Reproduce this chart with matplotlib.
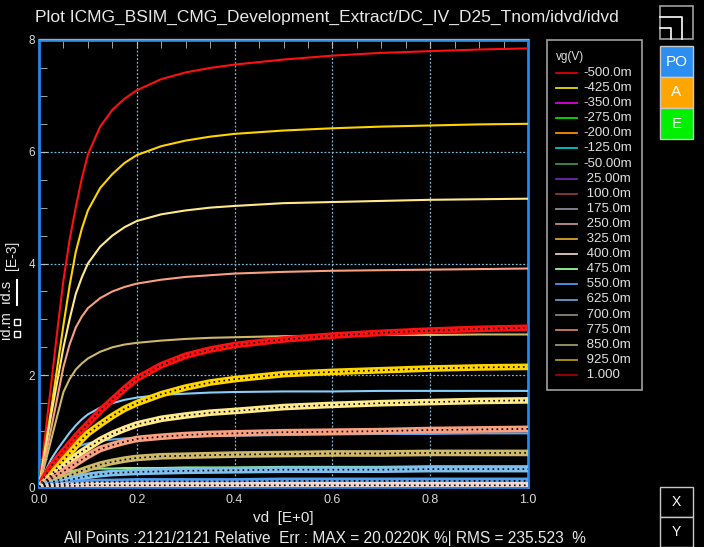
import matplotlib
matplotlib.use("Agg")
import matplotlib.pyplot as plt
from matplotlib.lines import Line2D
from matplotlib.patches import Rectangle
from matplotlib.ticker import MultipleLocator, FormatStrFormatter

plt.rcParams['font.family'] = ['Liberation Sans', 'DejaVu Sans']

# drain voltage samples (V)
vd = [0, 0.0125, 0.025, 0.0375, 0.05, 0.0625, 0.075, 0.0875, 0.1, 0.125, 0.15, 0.175,
      0.2, 0.25, 0.3, 0.35, 0.4, 0.5, 0.6, 0.7, 0.8, 0.9, 1.0]

# simulated drain current id.s [E-3 A], top curve first
ids_1 = [0, 0.92, 1.85, 2.8, 3.7, 4.42, 5.0, 5.52, 5.95, 6.45, 6.75, 6.95, 7.1, 7.3, 7.42, 7.5, 7.56, 7.65, 7.72, 7.77, 7.8, 7.83, 7.85]
ids_2 = [0, 0.7, 1.4, 2.15, 2.9, 3.6, 4.2, 4.62, 4.95, 5.35, 5.6, 5.8, 5.94, 6.1, 6.2, 6.27, 6.32, 6.38, 6.42, 6.45, 6.47, 6.49, 6.5]
ids_3 = [0, 0.65, 1.3, 1.9, 2.5, 3.0, 3.45, 3.75, 4.0, 4.3, 4.5, 4.65, 4.76, 4.88, 4.95, 5.0, 5.03, 5.08, 5.1, 5.12, 5.14, 5.15, 5.16]
ids_4 = [0, 0.52, 1.05, 1.6, 2.15, 2.55, 2.85, 3.05, 3.2, 3.38, 3.5, 3.58, 3.64, 3.71, 3.76, 3.79, 3.82, 3.85, 3.87, 3.88, 3.89, 3.9, 3.91]
ids_5 = [0, 0.42, 0.85, 1.28, 1.7, 1.93, 2.1, 2.21, 2.3, 2.42, 2.5, 2.55, 2.58, 2.62, 2.65, 2.67, 2.68, 2.7, 2.71, 2.72, 2.72, 2.73, 2.73]
ids_6 = [0, 0.27, 0.5, 0.67, 0.82, 0.97, 1.1, 1.21, 1.3, 1.42, 1.5, 1.56, 1.6, 1.65, 1.67, 1.69, 1.7, 1.71, 1.71, 1.72, 1.72, 1.72, 1.72]
ids_7 = [0, 0.18, 0.32, 0.44, 0.55, 0.63, 0.7, 0.75, 0.78, 0.83, 0.85, 0.87, 0.88, 0.9, 0.91, 0.915, 0.92, 0.93, 0.94, 0.95, 0.95, 0.96, 0.96]
ids_8 = [0, 0.1, 0.17, 0.22, 0.26, 0.28, 0.3, 0.31, 0.32, 0.33, 0.33, 0.34, 0.34, 0.34, 0.35, 0.35, 0.35, 0.36, 0.36, 0.36, 0.37, 0.37, 0.37]
ids_9 = [0, 0.02, 0.03, 0.035, 0.04, 0.045, 0.045, 0.05, 0.05, 0.05, 0.05, 0.05, 0.05, 0.05, 0.05, 0.05, 0.05, 0.05, 0.05, 0.05, 0.05, 0.05, 0.05]
ids_10 = [0, 0.005, 0.01, 0.015, 0.015, 0.02, 0.02, 0.02, 0.02, 0.02, 0.02, 0.02, 0.02, 0.02, 0.02, 0.02, 0.02, 0.02, 0.02, 0.02, 0.02, 0.02, 0.02]
ids_11 = [0, 0, 0, 0.005, 0.005, 0.005, 0.005, 0.005, 0.005, 0.005, 0.005, 0.005, 0.005, 0.005, 0.005, 0.005, 0.005, 0.005, 0.005, 0.005, 0.005, 0.005, 0.005]

# measured drain current id.m [E-3 A]
idm_1 = [0, 0.19, 0.37, 0.51, 0.64, 0.77, 0.9, 1.02, 1.13, 1.36, 1.56, 1.76, 1.94, 2.18, 2.35, 2.46, 2.54, 2.64, 2.71, 2.76, 2.8, 2.83, 2.85]
idm_2 = [0, 0.1, 0.22, 0.35, 0.48, 0.6, 0.73, 0.85, 0.96, 1.12, 1.27, 1.4, 1.5, 1.66, 1.78, 1.87, 1.93, 2.02, 2.06, 2.09, 2.12, 2.14, 2.15]
idm_3 = [0, 0.09, 0.18, 0.28, 0.37, 0.46, 0.55, 0.63, 0.7, 0.84, 0.95, 1.04, 1.12, 1.22, 1.28, 1.33, 1.36, 1.43, 1.47, 1.5, 1.52, 1.54, 1.55]
idm_4 = [0, 0.07, 0.14, 0.21, 0.28, 0.35, 0.42, 0.49, 0.56, 0.68, 0.75, 0.81, 0.86, 0.9, 0.93, 0.95, 0.96, 0.98, 0.99, 1.0, 1.02, 1.03, 1.04]
idm_5 = [0, 0.04, 0.08, 0.12, 0.16, 0.2, 0.25, 0.29, 0.33, 0.4, 0.45, 0.49, 0.52, 0.55, 0.56, 0.57, 0.58, 0.59, 0.6, 0.6, 0.61, 0.61, 0.61]
idm_6 = [0, 0.025, 0.05, 0.075, 0.1, 0.125, 0.15, 0.175, 0.2, 0.23, 0.25, 0.26, 0.27, 0.28, 0.29, 0.295, 0.3, 0.31, 0.31, 0.31, 0.32, 0.32, 0.32]
idm_7 = [0, 0.015, 0.03, 0.04, 0.05, 0.06, 0.07, 0.075, 0.08, 0.09, 0.09, 0.095, 0.1, 0.1, 0.1, 0.1, 0.1, 0.11, 0.11, 0.11, 0.11, 0.11, 0.11]
idm_8 = [0, 0.005, 0.01, 0.015, 0.02, 0.02, 0.02, 0.025, 0.03, 0.03, 0.03, 0.03, 0.03, 0.03, 0.03, 0.03, 0.03, 0.03, 0.03, 0.03, 0.03, 0.03, 0.03]

# legend entries
vg_labels = ['-500.0m', '-425.0m', '-350.0m', '-275.0m', '-200.0m', '-125.0m', '-50.00m',
             ' 25.00m', ' 100.0m', ' 175.0m', ' 250.0m', ' 325.0m', ' 400.0m', ' 475.0m',
             ' 550.0m', ' 625.0m', ' 700.0m', ' 775.0m', ' 850.0m', ' 925.0m', ' 1.000']
vg_colors = ['#E00000', '#E0E000', '#E000E0', '#00E000', '#FF8C00', '#00C8C8', '#4A8A4A',
             '#6A2AB0', '#8B3A3A', '#8A8A9A', '#BC8F8F', '#DAA520', '#E8C8C0', '#98FB98',
             '#4F9BF0', '#5F9EC8', '#8B8470', '#D08060', '#A09A60', '#B8960B', '#A00000']

sim_curves = [(ids_1, '#FF1010'), (ids_2, '#FFD400'), (ids_3, '#FFE98A'), (ids_4, '#F9A080'),
              (ids_5, '#CDB86A'), (ids_6, '#87CEFA'), (ids_7, '#5AAAF5'), (ids_8, '#90EE90'),
              (ids_9, '#F0D8D0'), (ids_10, '#E8E030'), (ids_11, '#90EE90')]
meas_curves = [(idm_1, '#FF1010'), (idm_2, '#FFD400'), (idm_3, '#FFE98A'), (idm_4, '#F9A080'),
               (idm_5, '#CDB86A'), (idm_6, '#7EC0EE'), (idm_7, '#4F9EF0'), (idm_8, '#F0D8D0')]

W, H = 704, 547
fig = plt.figure(figsize=(W / 100, H / 100), dpi=100, facecolor='black')
ax = fig.add_axes([39 / W, 60 / H, 489 / W, 447 / H])
ax.set_facecolor('black')

for y, c in sim_curves:
    ax.plot(vd, y, color=c, lw=1.5, zorder=3)
for y, c in meas_curves:
    ax.plot(vd, y, color=c, lw=4.8, solid_joinstyle='miter', zorder=4)
    ax.plot(vd, y, color='black', lw=1.2, linestyle=(0, (1, 2)), zorder=5)

ax.set_xlim(0, 1)
ax.set_ylim(0, 8)
ax.xaxis.set_major_locator(MultipleLocator(0.2))
ax.xaxis.set_minor_locator(MultipleLocator(0.05))
ax.xaxis.set_major_formatter(FormatStrFormatter('%.1f'))
ax.yaxis.set_major_locator(MultipleLocator(2))
ax.yaxis.set_minor_locator(MultipleLocator(0.5))
ax.tick_params(axis='x', which='both', top=True, bottom=False, direction='in',
               length=6, color='#BBBBBB', labelcolor='#D8D8D8', labelsize=9, pad=5)
ax.tick_params(axis='y', which='both', left=True, right=False, direction='in',
               length=6, color='#BBBBBB', labelcolor='#D8D8D8', labelsize=8.5, pad=3)
ax.grid(True, which='major', color='#7FB8D8', linestyle=(0, (1.5, 1.5)), lw=0.9, zorder=1)
ax.set_axisbelow(True)
for s in ax.spines.values():
    s.set_color('#1E88F0')
    s.set_linewidth(2)
# thin gray rule just above the top spine
fig.add_artist(Line2D([39 / W, 528 / W], [1 - 38.5 / H, 1 - 38.5 / H], color='#A8A8A8', lw=1))

# title and bottom texts
fig.text(35 / W, 1 - 17 / H, 'Plot ICMG_BSIM_CMG_Development_Extract/DC_IV_D25_Tnom/idvd/idvd',
         color='#E8E8E8', fontsize=12.5, ha='left', va='center')
fig.text(283 / W, 1 - 518 / H, 'vd  [E+0]', color='#E8E8E8', fontsize=11, ha='center', va='center')
fig.text(325 / W, 1 - 539 / H,
         'All Points :2121/2121 Relative  Err : MAX = 20.0220K %| RMS = 235.523  %',
         color='#E8E8E8', fontsize=11.2, ha='center', va='center')

# y label with line / square symbols
fig.text(7 / W, 1 - 310 / H, 'id.m  id.s', color='#E8E8E8', fontsize=10.5,
         rotation=90, ha='center', va='center')
fig.text(12 / W, 1 - 255 / H, '[E-3]', color='#E8E8E8', fontsize=10,
         rotation=90, ha='center', va='center')
fig.add_artist(Line2D([17 / W, 17 / W], [1 - 280 / H, 1 - 305 / H], color='white', lw=1.5))
fig.add_artist(Line2D([17 / W, 17 / W], [1 - 322 / H, 1 - 334 / H], color='white', lw=0,
                      marker='s', markersize=5, markerfacecolor='none', markeredgecolor='white'))

# legend box
fig.add_artist(Rectangle((547 / W, 1 - 390 / H), 95 / W, 350 / H, facecolor='black',
                         edgecolor='#A0A0A0', lw=1.2))
fig.text(556 / W, 1 - 57 / H, 'vg(V)', color='#E0E0E0', fontsize=8.5, ha='left', va='center')
for i, (lab, col) in enumerate(zip(vg_labels, vg_colors)):
    yy = 1 - (73 + i * 15.1) / H
    fig.add_artist(Line2D([556 / W, 577 / W], [yy, yy], color=col, lw=1.3))
    fig.text(583 / W, yy, lab, color='#E0E0E0', fontsize=9.5, ha='left', va='center')

# right side buttons
fig.add_artist(Rectangle((660 / W, 1 - 39 / H), 33 / W, 33 / H, facecolor='black',
                         edgecolor='#A0A0A0', lw=1.2))
fig.add_artist(Line2D([660 / W, 682 / W, 682 / W], [1 - 17 / H, 1 - 17 / H, 1 - 39 / H],
                      color='white', lw=1.2))
fig.add_artist(Line2D([660 / W, 671 / W, 671 / W], [1 - 28 / H, 1 - 28 / H, 1 - 39 / H],
                      color='white', lw=1.2))
for lab, col, top in [('PO', '#2B8EF0', 46), ('A', '#FFA500', 77), ('E', '#00F000', 108)]:
    fig.add_artist(Rectangle((660 / W, 1 - (top + 31) / H), 33 / W, 31 / H, facecolor=col,
                             edgecolor='#C8C8C8', lw=1))
    fig.text(676.5 / W, 1 - (top + 15.5) / H, lab, color='white', fontsize=11,
             ha='center', va='center')
for lab, top in [('X', 487), ('Y', 517)]:
    fig.add_artist(Rectangle((660 / W, 1 - (top + 30) / H), 33 / W, 30 / H, facecolor='black',
                             edgecolor='#C8C8C8', lw=1))
    fig.text(676.5 / W, 1 - (top + 15) / H, lab, color='white', fontsize=10,
             ha='center', va='center')

fig.savefig('out.png', dpi=100, facecolor='black')
